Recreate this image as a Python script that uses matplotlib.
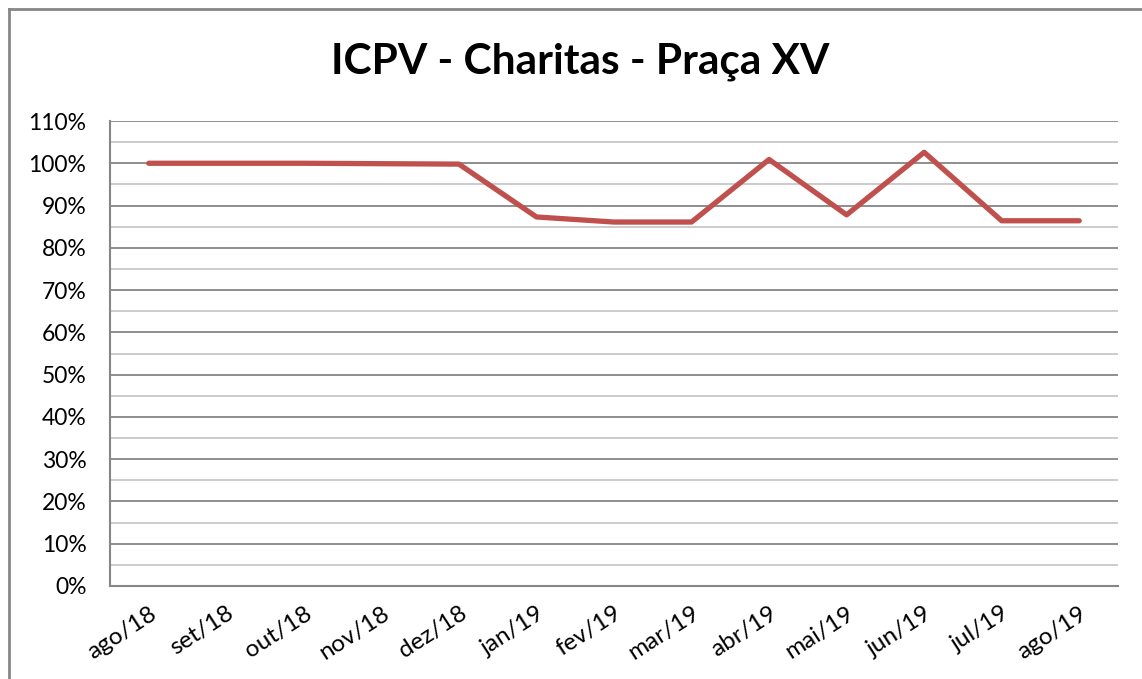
import matplotlib

matplotlib.use("Agg")
import matplotlib.pyplot as plt
from matplotlib.lines import Line2D
from matplotlib.ticker import FuncFormatter, MultipleLocator

months = ["ago/18", "set/18", "out/18", "nov/18", "dez/18", "jan/19", "fev/19",
          "mar/19", "abr/19", "mai/19", "jun/19", "jul/19", "ago/19"]
icpv = [100.0, 100.0, 100.0, 99.9, 99.8, 87.3, 86.1, 86.1, 100.9, 87.8, 102.6, 86.4, 86.4]

plt.rcParams["font.family"] = ["Lato", "DejaVu Sans"]

fig = plt.figure(figsize=(11.42, 6.79), dpi=100)
ax = fig.add_axes([110 / 1142, 1 - 586 / 679, 1008 / 1142, 465 / 679])

x = range(len(months))
ax.plot(x, icpv, color="#C0504D", lw=3.8, solid_capstyle="round", zorder=3)

ax.set_xlim(-0.5, len(months) - 0.5)
ax.set_ylim(0, 110)
ax.yaxis.set_major_locator(MultipleLocator(10))
ax.yaxis.set_minor_locator(MultipleLocator(5))
ax.yaxis.set_major_formatter(FuncFormatter(lambda v, _: f"{v:.0f}%"))
ax.grid(axis="y", which="major", color="#868686", lw=1.3, zorder=1)
ax.grid(axis="y", which="minor", color="#C8C8C8", lw=1.3, zorder=1)
ax.set_axisbelow(True)

ax.set_xticks(list(x))
ax.set_xticklabels(months, rotation=33, ha="right", rotation_mode="anchor", fontsize=17.5)
ax.tick_params(axis="x", length=0, pad=12)
ax.tick_params(axis="y", which="both", length=0, pad=17, labelsize=16.5)

for side in ("top", "right"):
    ax.spines[side].set_visible(False)
for side in ("left", "bottom"):
    ax.spines[side].set_color("#868686")
    ax.spines[side].set_linewidth(1.5)

# title is centred on the whole chart area, not on the plot area
fig.text(580 / 1142, 1 - 62 / 679, "ICPV - Charitas - Praça XV", fontsize=30.5,
         fontweight="bold", ha="center", va="center")

# outer chart frame (only left and top edges fall inside the picture)
fig.add_artist(Line2D([9 / 1142, 9 / 1142], [0, 1 - 9 / 679], color="#868686", lw=2,
                      transform=fig.transFigure))
fig.add_artist(Line2D([9 / 1142, 1], [1 - 9 / 679, 1 - 9 / 679], color="#868686", lw=2,
                      transform=fig.transFigure))

fig.savefig("out.png", dpi=100)
